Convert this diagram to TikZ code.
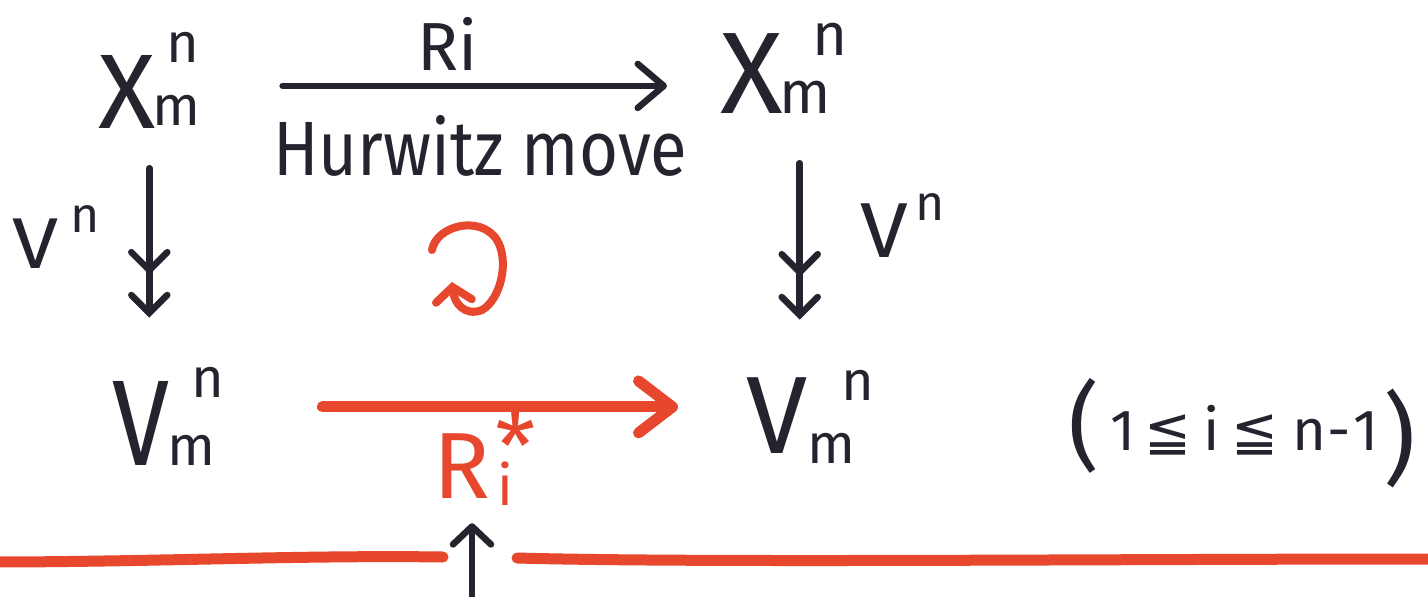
\documentclass[tikz,border=0pt]{standalone}
\usepackage{fontspec}
\setmainfont{Fira Sans}
\newfontfamily\symf{DejaVu Sans}
\usetikzlibrary{arrows.meta,calc}
\definecolor{ink}{HTML}{24242F}
\definecolor{redink}{HTML}{E6472D}
\newcommand{\fs}[1]{\fontsize{#1}{#1}\selectfont}
\begin{document}
\begin{tikzpicture}[x=1pt,y=-1pt,
  txt/.style={inner sep=0pt, anchor=base west, text=ink},
  rtxt/.style={txt, text=redink},
  blkline/.style={draw=ink, line width=6.5pt, line cap=round, line join=round},
  redline/.style={draw=redink, line width=11pt, line cap=round, line join=round},
  onearr/.style={blkline, -{Straight Barb[length=26pt,width=44pt,line cap=round,line join=round]}},
  twoarr/.style={blkline, -{Straight Barb[length=18pt,width=36pt,sep=17pt,line cap=round] Straight Barb[length=18pt,width=36pt,line cap=round]}},
  redarr/.style={redline, -{Straight Barb[length=34pt,width=52pt,line cap=round,line join=round]}}
]
\path[use as bounding box, fill=white] (0,0) rectangle (1428,597);

% top row
\node[txt] (xl) at (98,128) {\fs{106}X\rlap{\kern11pt\raisebox{66pt}{\fs{56}n}}\kern-3pt\raisebox{3pt}{\fs{56}m}};
\node[txt] (xr) at (720,113) {\fs{116}X\rlap{\kern30pt\raisebox{58pt}{\fs{60}n}}\kern-3pt\raisebox{0pt}{\fs{60}m}};
\node[txt] (ri) at (417,70) {\fs{68}Ri};
\node[txt] (hm) at (273,175) {\scalebox{0.87}[1]{\fs{77}Hurwitz move}};

% bottom row
\node[txt] (vl) at (112,465) {\scalebox{0.84}[1]{\fs{122}V}\rlap{\kern22pt\raisebox{68pt}{\fs{56}n}}\kern-2pt\raisebox{0pt}{\fs{56}m}};
\node[txt] (vr) at (746,453) {\fs{110}V\rlap{\kern34pt\raisebox{53pt}{\fs{56}n}}\raisebox{-10pt}{\fs{56}m}};
\node[rtxt] (rs) at (433,498) {\fs{94}R\kern7pt\rlap{\raisebox{-7pt}{\fs{56}i}}\kern-2pt\raisebox{19pt}{\fs{92}*}};

% side labels
\node[txt] (vnl) at (12,268) {\scalebox{1.15}[1]{\fs{72}V}\kern12pt\raisebox{36pt}{\fs{50}n}};
\node[txt] (vnr) at (860,257) {\scalebox{1.1}[1]{\fs{78}V}\kern8pt\raisebox{37pt}{\fs{50}n}};

% condition
\node[text=ink, inner sep=0pt] (lp) at (1084,426) {\fs{96}(};
\node[txt] (cond) at (1110,450) {\fs{58}1\kern9pt{\symf\fs{56}≦}\kern12pt i\kern12pt{\symf\fs{56}≦}\kern14pt n\kern1pt-\kern3pt1};
\node[text=ink, inner sep=0pt] (rp) at (1400,438) {\fs{100})};

% horizontal arrows
\draw[onearr] ([xshift=82pt,yshift=-6pt]xl.east) -- ([xshift=-53pt,yshift=-6pt]xl.east -| xr.west);
\draw[redarr] ([xshift=107pt,yshift=9pt]vl.east) -- ([xshift=-68pt,yshift=9pt]vl.east -| vr.west);

% vertical arrows
\draw[twoarr] ([yshift=-40pt]xl.south) -- ([yshift=49pt]xl.south |- vl.north);
\draw[twoarr] ([xshift=24pt,yshift=-50pt]xr.south) -- ([xshift=24pt,yshift=50pt]xr.south |- vr.north);

% commutation loop
\draw[redline, line width=8pt, -{Straight Barb[length=14pt,width=36pt,line cap=round]}]
  (432,250) .. controls (436,226) and (480,214) .. (497,240)
  .. controls (510,262) and (500,300) .. (482,310)
  .. controls (464,317) and (454,302) .. (452,282);

% bottom red line with gap and pointer
\coordinate (gl) at (443,557);
\coordinate (gr) at (517,558);
\coordinate (pb) at (472,600);
\draw[redline] (-10,562) .. controls (150,562) and (300,555) .. (gl);
\draw[redline] (gr) .. controls (700,563) and (1100,559) .. (1440,559);
\draw[onearr, -{Straight Barb[length=18pt,width=38pt,line cap=round,line join=round]}] (pb) -- ([yshift=-18pt]rs.south -| pb);
\end{tikzpicture}
\end{document}
